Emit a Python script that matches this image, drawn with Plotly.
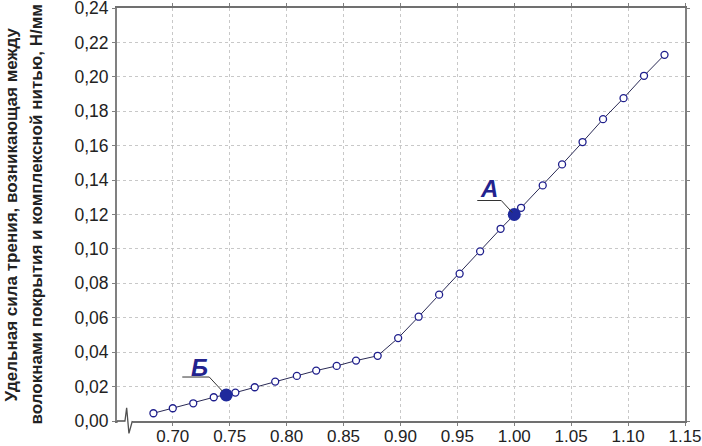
import plotly.graph_objects as go

# кривая: удельная сила трения от параметра x
x_vals = [0.683, 0.700, 0.718, 0.736, 0.755, 0.772, 0.790, 0.809, 0.826, 0.844,
          0.861, 0.880, 0.898, 0.916, 0.934, 0.952, 0.970, 0.988, 1.006, 1.025,
          1.042, 1.060, 1.078, 1.096, 1.114, 1.132]
y_vals = [0.0045, 0.0074, 0.0103, 0.0138, 0.0165, 0.0196, 0.0229, 0.0262, 0.0293, 0.0320,
          0.0351, 0.0379, 0.0482, 0.0606, 0.0734, 0.0856, 0.0986, 0.1117, 0.1239, 0.1369,
          0.1491, 0.1621, 0.1754, 0.1876, 0.2006, 0.2128]

# отмеченные точки А и Б
mark_names = ["А", "Б"]
mark_x = [1.000, 0.747]
mark_y = [0.1200, 0.0151]

x_ticks = [0.70, 0.75, 0.80, 0.85, 0.90, 0.95, 1.00, 1.05, 1.10, 1.15]
x_ticktext = ["0.70", "0.75", "0.80", "0.85", "0.90", "0.95", "1.00", "1.05", "1.10", "1.15"]
y_ticks = [0.00, 0.02, 0.04, 0.06, 0.08, 0.10, 0.12, 0.14, 0.16, 0.18, 0.20, 0.22, 0.24]
y_ticktext = ["0,00", "0,02", "0,04", "0,06", "0,08", "0,10", "0,12", "0,14", "0,16",
              "0,18", "0,20", "0,22", "0,24"]

y_title_lines = ["Удельная сила трения, возникающая между",
                 "волокнами покрытия и комплексной нитью, Н/мм"]

navy = "#1e1e8c"
font_fam = "Arial, Liberation Sans, sans-serif"

fig = go.Figure()

fig.add_trace(go.Scatter(
    x=x_vals, y=y_vals, mode="lines+markers",
    line=dict(color="#2a2a55", width=1),
    marker=dict(symbol="circle", size=7, color="white", line=dict(color=navy, width=1.3)),
    showlegend=False,
))

fig.add_trace(go.Scatter(
    x=mark_x, y=mark_y, mode="markers",
    marker=dict(symbol="circle", size=13, color="#1f2a9c", line=dict(color="#1f2a9c", width=0)),
    showlegend=False,
))

# подписи А и Б с выносками (смещения в пикселях от точки)
label_pos = {"А": (-25, 26), "Б": (-27, 28)}
leader_path = {
    "А": "M -37,14 L -13,14 L -2,2",
    "Б": "M -44,18 L -17,18 L -4,4",
}
for name, mx, my in zip(mark_names, mark_x, mark_y):
    sx, sy = label_pos[name]
    fig.add_annotation(
        x=mx, y=my, xref="x", yref="y", xshift=sx, yshift=sy,
        text="<b><i>" + name + "</i></b>", showarrow=False,
        font=dict(family=font_fam, size=24, color="#23238e"),
        xanchor="center", yanchor="middle",
    )
    fig.add_shape(
        type="path", xref="x", yref="y",
        xsizemode="pixel", ysizemode="pixel", xanchor=mx, yanchor=my,
        path=leader_path[name],
        line=dict(color="#333", width=1),
    )

# разрыв оси x у начала
fig.add_shape(type="line", xref="x domain", yref="y domain", x0=0.001, x1=0.027, y0=0, y1=0,
              line=dict(color="white", width=4))
fig.add_shape(
    type="path", xref="x domain", yref="y domain",
    path="M 0 0 L 0.014 0 L 0.017 0.032 L 0.021 -0.030 L 0.027 0",
    line=dict(color="#505050", width=1.3),
)

# подпись оси y в две строки (x в пикселях -> paper)
for i, line_text in enumerate(y_title_lines):
    fig.add_annotation(
        x=(11 + 25 * i - 117) / 568, y=0.5, xref="paper", yref="paper",
        text="<b>" + line_text + "</b>",
        textangle=-90, showarrow=False,
        font=dict(family=font_fam, size=17, color="#222"),
        xanchor="center", yanchor="middle",
    )

fig.update_layout(
    width=702, height=446,
    margin=dict(l=117, r=17, t=8, b=25),
    paper_bgcolor="white", plot_bgcolor="white",
    font=dict(family=font_fam, size=18, color="#222"),
    xaxis=dict(
        range=[0.651, 1.15], tickvals=x_ticks, ticktext=x_ticktext,
        showgrid=True, gridcolor="#c8c8c8", griddash="dot", gridwidth=1,
        showline=True, linecolor="#707070", linewidth=2, mirror="ticks",
        zeroline=False, automargin=False, ticklabeloverflow="allow",
        ticks="outside", ticklen=3, tickcolor="#808080", ticklabelstandoff=-4,
        tickfont=dict(size=17, color="#222"),
    ),
    yaxis=dict(
        range=[0, 0.24], tickvals=y_ticks, ticktext=y_ticktext,
        showgrid=True, gridcolor="#c8c8c8", griddash="dot", gridwidth=1,
        showline=True, linecolor="#808080", linewidth=2, mirror="ticks",
        zeroline=False, automargin=False, ticklabeloverflow="allow",
        ticks="outside", ticklen=3, tickcolor="#808080",
        tickfont=dict(size=17.5, color="#222"),
    ),
)

fig.write_html("out.html", post_script="document.body.style.margin='0';",
               config={"displayModeBar": False})
